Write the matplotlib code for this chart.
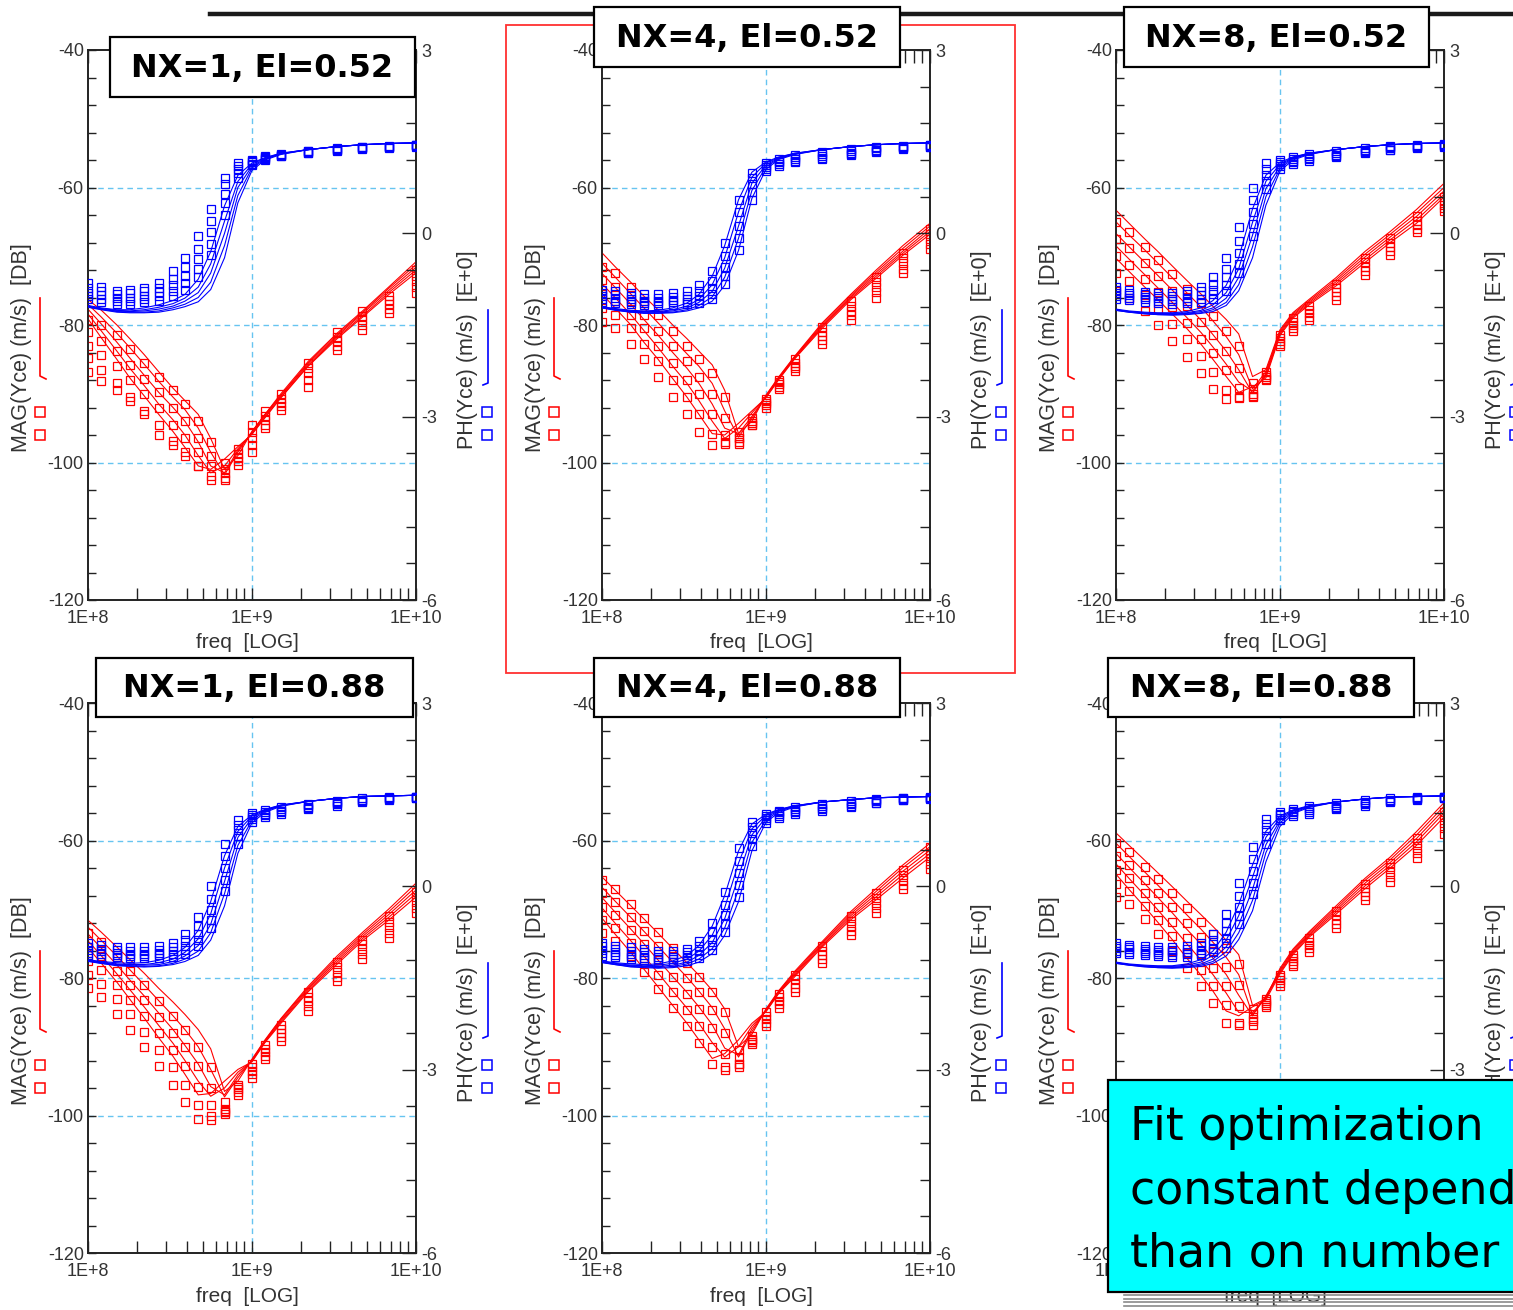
import numpy as np
import matplotlib.pyplot as plt
from matplotlib.patches import Rectangle
from matplotlib.lines import Line2D
from matplotlib.ticker import FixedLocator, MultipleLocator, LogLocator, NullFormatter

plt.rcParams['font.family'] = ['Liberation Sans', 'DejaVu Sans']
plt.rcParams['axes.unicode_minus'] = False

# ---- data ----
freq_ghz = [0.10, 0.12, 0.15, 0.18, 0.22, 0.27, 0.33, 0.39, 0.47, 0.56,
            0.68, 0.82, 1.0, 1.2, 1.5, 2.2, 3.3, 4.7, 6.8, 10.0]

titles = ['NX=1, El=0.52', 'NX=4, El=0.52', 'NX=8, El=0.52',
          'NX=1, El=0.88', 'NX=4, El=0.88', 'NX=8, El=0.88']

x_tick_labels = ['1E+8', '1E+9', '1E+10']
mag_ticks = [-120, -100, -80, -60, -40]
ph_ticks = [-6, -3, 0, 3]

# NX=1, El=0.52 : magnitude [dB] (fit lines / measured squares), phase (fit / measured)
p1_mag_fit = [
    [-76.3, -77.8, -80.0, -82.0, -84.3, -86.8, -89.2, -91.0, -93.0, -96.5, -101.0, -99.0, -95.5, -93.0, -90.0, -85.3, -81.2, -78.0, -74.5, -70.8],
    [-77.0, -78.8, -81.2, -83.3, -85.7, -88.2, -90.5, -92.3, -95.0, -98.5, -101.8, -98.5, -95.5, -93.0, -90.2, -85.5, -81.4, -78.2, -74.7, -71.2],
    [-77.7, -79.8, -82.5, -84.8, -87.3, -89.8, -92.0, -94.0, -97.0, -100.5, -101.5, -98.2, -95.7, -93.2, -90.3, -85.7, -81.6, -78.4, -75.0, -71.6],
    [-78.4, -80.8, -83.8, -86.3, -88.8, -91.5, -93.8, -96.0, -99.0, -101.5, -100.5, -98.0, -95.8, -93.4, -90.5, -85.9, -81.8, -78.7, -75.3, -72.0],
    [-79.1, -81.8, -85.0, -87.7, -90.3, -93.0, -95.5, -97.8, -100.5, -101.0, -99.5, -97.7, -95.9, -93.5, -90.6, -86.0, -82.0, -78.9, -75.6, -72.4]]
p1_mag_meas = [
    [-79.3, -80.0, -81.5, -83.5, -85.5, -87.5, -89.5, -91.5, -94.0, -97.0, -100.0, -98.0, -94.5, -92.5, -90.0, -85.5, -81.0, -78.0, -75.8, -72.0],
    [-81.0, -82.3, -83.8, -85.8, -87.8, -89.8, -92.0, -94.0, -96.5, -99.0, -101.0, -98.8, -95.5, -93.2, -90.8, -86.3, -81.7, -78.7, -76.4, -72.8],
    [-83.0, -84.3, -86.0, -88.0, -90.0, -92.0, -94.5, -96.5, -98.5, -100.5, -101.5, -99.3, -96.5, -93.8, -91.3, -87.0, -82.3, -79.3, -77.0, -73.6],
    [-84.8, -86.5, -88.5, -90.5, -92.5, -94.5, -96.8, -98.5, -100.5, -102.0, -102.3, -99.8, -97.5, -94.5, -91.8, -88.0, -83.0, -80.0, -77.6, -74.5],
    [-86.8, -88.2, -89.5, -91.0, -93.0, -96.0, -97.5, -99.0, -100.5, -102.5, -102.5, -100.3, -98.5, -95.0, -92.3, -89.0, -83.6, -80.7, -78.3, -75.3]]
p1_ph_fit = [
    [-1.18, -1.22, -1.25, -1.25, -1.22, -1.17, -1.10, -1.00, -0.75, -0.30, 0.45, 0.95, 1.15, 1.24, 1.31, 1.37, 1.42, 1.45, 1.47, 1.48],
    [-1.19, -1.23, -1.26, -1.27, -1.25, -1.21, -1.15, -1.06, -0.88, -0.50, 0.20, 0.85, 1.13, 1.23, 1.31, 1.37, 1.42, 1.45, 1.47, 1.48],
    [-1.20, -1.24, -1.27, -1.28, -1.27, -1.24, -1.19, -1.11, -0.97, -0.65, 0.00, 0.75, 1.10, 1.22, 1.30, 1.37, 1.42, 1.45, 1.47, 1.48],
    [-1.20, -1.24, -1.28, -1.29, -1.29, -1.27, -1.22, -1.16, -1.05, -0.80, -0.20, 0.62, 1.07, 1.21, 1.30, 1.37, 1.42, 1.45, 1.47, 1.48],
    [-1.21, -1.25, -1.29, -1.30, -1.30, -1.29, -1.25, -1.20, -1.12, -0.92, -0.40, 0.50, 1.03, 1.20, 1.29, 1.37, 1.42, 1.45, 1.47, 1.48]]
p1_ph_meas = [
    [-0.82, -0.88, -0.95, -0.92, -0.90, -0.82, -0.62, -0.40, -0.05, 0.40, 0.90, 1.15, 1.20, 1.27, 1.30, 1.35, 1.40, 1.42, 1.43, 1.45],
    [-0.90, -0.95, -1.00, -0.98, -0.95, -0.90, -0.75, -0.55, -0.25, 0.20, 0.80, 1.10, 1.18, 1.25, 1.29, 1.34, 1.38, 1.41, 1.42, 1.44],
    [-0.97, -1.01, -1.05, -1.05, -1.02, -0.96, -0.85, -0.70, -0.42, 0.02, 0.65, 1.05, 1.16, 1.23, 1.28, 1.33, 1.37, 1.40, 1.42, 1.44],
    [-1.03, -1.07, -1.10, -1.10, -1.08, -1.03, -0.95, -0.82, -0.58, -0.18, 0.50, 0.98, 1.14, 1.21, 1.27, 1.32, 1.36, 1.39, 1.41, 1.43],
    [-1.08, -1.12, -1.15, -1.15, -1.13, -1.10, -1.03, -0.93, -0.72, -0.35, 0.30, 0.90, 1.12, 1.20, 1.26, 1.31, 1.35, 1.38, 1.40, 1.42]]

# NX=4, El=0.52
p2_mag_fit = [
    [-69.5, -71.5, -73.8, -75.8, -77.8, -80.0, -82.0, -83.8, -85.8, -89.5, -95.8, -94.0, -90.2, -87.5, -84.5, -79.7, -75.5, -72.0, -68.5, -65.2],
    [-71.0, -73.0, -75.5, -77.5, -79.7, -82.0, -84.2, -86.0, -88.5, -92.5, -96.3, -93.6, -90.3, -87.6, -84.6, -79.9, -75.7, -72.3, -68.9, -65.6],
    [-72.5, -74.5, -77.0, -79.2, -81.5, -84.0, -86.3, -88.5, -91.5, -95.0, -95.8, -93.3, -90.4, -87.7, -84.7, -80.1, -75.9, -72.6, -69.3, -66.0],
    [-74.0, -76.0, -78.5, -80.8, -83.3, -86.0, -88.5, -91.0, -94.0, -96.5, -95.0, -92.8, -90.5, -87.8, -84.8, -80.3, -76.1, -72.9, -69.6, -66.4],
    [-75.5, -77.5, -80.0, -82.5, -85.0, -87.8, -90.5, -93.0, -95.8, -96.0, -94.3, -92.5, -90.6, -87.9, -84.9, -80.5, -76.3, -73.2, -69.9, -66.8]]
p2_mag_meas = [
    [-71.5, -72.5, -74.5, -76.5, -78.5, -80.8, -83.0, -85.0, -87.0, -90.5, -96.5, -94.5, -90.8, -88.0, -85.0, -80.3, -76.5, -73.0, -69.5, -66.0],
    [-73.5, -74.5, -76.5, -78.5, -80.8, -83.0, -85.3, -87.5, -90.0, -93.5, -97.0, -94.5, -91.0, -88.3, -85.5, -81.0, -77.2, -73.8, -70.3, -66.8],
    [-75.5, -76.5, -78.5, -80.5, -83.0, -85.5, -88.0, -90.0, -93.0, -96.0, -97.3, -94.3, -91.3, -88.6, -85.9, -81.6, -77.9, -74.5, -71.0, -67.5],
    [-77.5, -78.5, -80.5, -82.8, -85.3, -88.0, -90.5, -93.0, -95.8, -97.3, -96.5, -94.0, -91.6, -89.0, -86.3, -82.2, -78.6, -75.2, -71.8, -68.2],
    [-79.5, -80.5, -82.8, -85.0, -87.5, -90.5, -93.0, -95.5, -97.5, -97.0, -95.5, -93.5, -92.0, -89.3, -86.7, -82.8, -79.3, -76.0, -72.5, -69.0]]
p2_ph_fit = [
    [-1.20, -1.23, -1.26, -1.27, -1.26, -1.22, -1.14, -1.00, -0.70, -0.20, 0.55, 1.00, 1.17, 1.25, 1.31, 1.37, 1.42, 1.45, 1.47, 1.48],
    [-1.21, -1.24, -1.27, -1.28, -1.28, -1.25, -1.19, -1.08, -0.84, -0.40, 0.35, 0.92, 1.15, 1.24, 1.31, 1.37, 1.42, 1.45, 1.47, 1.48],
    [-1.21, -1.25, -1.28, -1.29, -1.29, -1.27, -1.22, -1.13, -0.95, -0.57, 0.12, 0.82, 1.12, 1.23, 1.30, 1.37, 1.42, 1.45, 1.47, 1.48],
    [-1.22, -1.25, -1.29, -1.30, -1.30, -1.29, -1.25, -1.18, -1.04, -0.72, -0.08, 0.70, 1.09, 1.22, 1.30, 1.37, 1.42, 1.45, 1.47, 1.48],
    [-1.22, -1.26, -1.29, -1.31, -1.31, -1.30, -1.27, -1.22, -1.11, -0.85, -0.28, 0.57, 1.05, 1.21, 1.29, 1.37, 1.42, 1.45, 1.47, 1.48]]
p2_ph_meas = [
    [-0.92, -0.95, -0.98, -1.00, -1.00, -0.98, -0.95, -0.85, -0.62, -0.15, 0.55, 0.98, 1.15, 1.22, 1.28, 1.33, 1.38, 1.41, 1.43, 1.45],
    [-0.98, -1.00, -1.03, -1.05, -1.05, -1.04, -1.02, -0.95, -0.78, -0.37, 0.35, 0.90, 1.12, 1.19, 1.25, 1.30, 1.35, 1.39, 1.42, 1.44],
    [-1.03, -1.05, -1.08, -1.10, -1.10, -1.09, -1.07, -1.03, -0.90, -0.55, 0.12, 0.80, 1.09, 1.16, 1.22, 1.27, 1.32, 1.37, 1.41, 1.43],
    [-1.08, -1.10, -1.12, -1.14, -1.14, -1.13, -1.12, -1.09, -1.00, -0.70, -0.08, 0.68, 1.06, 1.13, 1.19, 1.24, 1.30, 1.35, 1.40, 1.42],
    [-1.12, -1.14, -1.16, -1.17, -1.18, -1.17, -1.16, -1.14, -1.07, -0.83, -0.28, 0.55, 1.02, 1.10, 1.16, 1.21, 1.28, 1.33, 1.38, 1.41]]

# NX=8, El=0.52
p3_mag_fit = [
    [-63.3, -65.2, -67.5, -69.3, -71.4, -73.5, -75.5, -77.3, -79.2, -81.3, -87.5, -86.5, -80.7, -78.2, -76.3, -73.1, -69.3, -66.4, -63.2, -59.4],
    [-65.0, -66.9, -69.1, -71.0, -73.1, -75.3, -77.4, -79.4, -81.7, -84.3, -89.3, -86.8, -80.9, -78.4, -76.5, -73.4, -69.7, -66.8, -63.7, -60.0],
    [-66.7, -68.6, -70.9, -72.8, -74.9, -77.1, -79.3, -81.4, -83.8, -86.5, -89.9, -87.1, -81.1, -78.6, -76.7, -73.7, -70.1, -67.2, -64.2, -60.5],
    [-68.5, -70.4, -72.7, -74.6, -76.7, -78.9, -81.1, -83.2, -85.7, -88.3, -89.6, -87.4, -81.3, -78.8, -76.9, -74.0, -70.5, -67.6, -64.7, -61.0],
    [-70.3, -72.2, -74.5, -76.3, -78.4, -80.5, -82.8, -85.0, -87.5, -89.8, -89.0, -87.7, -81.5, -79.0, -77.1, -74.3, -70.9, -68.0, -65.2, -61.4]]
p3_mag_meas = [
    [-65.0, -66.5, -68.7, -70.5, -72.6, -74.8, -76.8, -78.7, -80.8, -83.0, -88.5, -86.8, -81.5, -79.0, -77.3, -74.0, -70.3, -67.3, -64.2, -61.4],
    [-67.5, -68.8, -71.0, -72.9, -75.0, -77.3, -79.5, -81.4, -83.8, -86.3, -90.3, -87.2, -81.9, -79.5, -77.8, -74.6, -70.9, -68.0, -64.9, -62.0],
    [-70.0, -71.2, -73.3, -75.2, -77.4, -79.7, -82.0, -84.1, -86.6, -89.2, -90.5, -87.5, -82.3, -80.0, -78.3, -75.2, -71.5, -68.6, -65.5, -62.5],
    [-72.5, -73.6, -75.6, -77.6, -79.8, -82.1, -84.5, -86.8, -89.4, -90.6, -90.0, -87.8, -82.7, -80.4, -78.8, -75.8, -72.1, -69.2, -66.0, -63.0],
    [-75.0, -76.0, -78.0, -80.0, -82.3, -84.7, -87.0, -89.3, -90.8, -90.4, -89.3, -88.0, -83.0, -80.8, -79.2, -76.3, -72.7, -69.8, -66.5, -63.4]]
p3_ph_fit = [
    [-1.24, -1.27, -1.29, -1.30, -1.30, -1.28, -1.22, -1.10, -0.85, -0.40, 0.40, 0.95, 1.16, 1.25, 1.31, 1.37, 1.42, 1.45, 1.47, 1.48],
    [-1.25, -1.28, -1.30, -1.31, -1.31, -1.30, -1.26, -1.17, -0.97, -0.58, 0.18, 0.85, 1.13, 1.24, 1.31, 1.37, 1.42, 1.45, 1.47, 1.48],
    [-1.25, -1.28, -1.31, -1.32, -1.32, -1.31, -1.28, -1.22, -1.06, -0.72, -0.03, 0.73, 1.10, 1.23, 1.30, 1.37, 1.42, 1.45, 1.47, 1.48],
    [-1.26, -1.29, -1.31, -1.33, -1.33, -1.32, -1.30, -1.25, -1.13, -0.84, -0.22, 0.60, 1.06, 1.22, 1.30, 1.37, 1.42, 1.45, 1.47, 1.48],
    [-1.26, -1.29, -1.32, -1.33, -1.34, -1.33, -1.31, -1.28, -1.18, -0.94, -0.40, 0.46, 1.02, 1.20, 1.29, 1.37, 1.42, 1.45, 1.47, 1.48]]
p3_ph_meas = [
    [-0.88, -0.92, -0.96, -0.98, -0.98, -0.95, -0.88, -0.72, -0.40, 0.10, 0.75, 1.15, 1.20, 1.25, 1.30, 1.35, 1.40, 1.43, 1.45, 1.46],
    [-0.93, -0.97, -1.00, -1.02, -1.02, -1.00, -0.95, -0.83, -0.58, -0.12, 0.55, 1.05, 1.17, 1.22, 1.27, 1.32, 1.37, 1.41, 1.43, 1.45],
    [-0.98, -1.01, -1.04, -1.06, -1.07, -1.05, -1.01, -0.92, -0.72, -0.32, 0.35, 0.95, 1.14, 1.19, 1.24, 1.29, 1.35, 1.39, 1.42, 1.44],
    [-1.03, -1.05, -1.08, -1.10, -1.11, -1.10, -1.07, -1.00, -0.84, -0.50, 0.15, 0.85, 1.10, 1.16, 1.21, 1.27, 1.33, 1.37, 1.41, 1.43],
    [-1.07, -1.09, -1.12, -1.14, -1.15, -1.14, -1.12, -1.07, -0.94, -0.65, -0.05, 0.72, 1.06, 1.13, 1.18, 1.25, 1.31, 1.36, 1.40, 1.42]]

# NX=1, El=0.88
p4_mag_fit = [
    [-71.6, -73.3, -75.5, -77.3, -79.3, -81.5, -83.5, -85.3, -87.5, -90.3, -96.5, -95.0, -91.8, -89.0, -85.9, -81.2, -76.8, -73.4, -70.0, -66.2],
    [-72.6, -74.5, -76.8, -78.8, -81.0, -83.3, -85.5, -87.5, -90.0, -93.3, -97.3, -94.5, -91.9, -89.1, -86.0, -81.4, -77.1, -73.7, -70.4, -66.7],
    [-73.6, -75.6, -78.1, -80.3, -82.6, -85.1, -87.5, -89.8, -92.5, -95.8, -97.0, -94.1, -92.0, -89.2, -86.2, -81.6, -77.4, -74.0, -70.8, -67.2],
    [-74.6, -76.7, -79.4, -81.7, -84.2, -86.9, -89.5, -92.0, -95.0, -97.2, -96.0, -93.7, -92.1, -89.3, -86.4, -81.8, -77.7, -74.3, -71.2, -67.7],
    [-75.6, -77.8, -80.6, -83.1, -85.8, -88.7, -91.4, -94.0, -97.0, -96.8, -95.0, -93.3, -92.2, -89.4, -86.6, -82.0, -78.0, -74.6, -71.6, -68.2]]
p4_mag_meas = [
    [-73.5, -74.8, -77.0, -79.0, -81.0, -83.3, -85.5, -87.5, -90.0, -93.0, -98.0, -95.5, -92.5, -89.8, -86.8, -82.0, -77.7, -74.4, -71.0, -67.5],
    [-75.5, -76.8, -79.0, -81.0, -83.2, -85.6, -88.0, -90.0, -92.8, -96.0, -99.3, -95.8, -93.0, -90.3, -87.4, -82.7, -78.4, -75.1, -71.8, -68.2],
    [-77.5, -78.8, -81.0, -83.2, -85.5, -88.0, -90.5, -92.8, -95.8, -98.5, -99.8, -96.2, -93.5, -90.8, -88.0, -83.4, -79.1, -75.8, -72.6, -69.0],
    [-79.5, -80.8, -83.0, -85.3, -87.8, -90.5, -93.0, -95.5, -98.5, -100.0, -99.5, -96.6, -94.0, -91.3, -88.6, -84.1, -79.8, -76.5, -73.4, -69.8],
    [-81.5, -82.8, -85.2, -87.5, -90.0, -92.8, -95.5, -98.0, -100.5, -100.7, -99.0, -97.0, -94.5, -91.8, -89.2, -84.8, -80.5, -77.2, -74.2, -70.6]]
p4_ph_fit = [
    [-1.20, -1.23, -1.25, -1.26, -1.25, -1.21, -1.13, -1.00, -0.72, -0.25, 0.50, 0.98, 1.17, 1.26, 1.33, 1.39, 1.44, 1.47, 1.48, 1.49],
    [-1.21, -1.24, -1.27, -1.28, -1.28, -1.25, -1.19, -1.08, -0.86, -0.45, 0.30, 0.90, 1.15, 1.25, 1.33, 1.39, 1.44, 1.47, 1.48, 1.49],
    [-1.22, -1.25, -1.28, -1.29, -1.29, -1.28, -1.23, -1.14, -0.97, -0.62, 0.08, 0.80, 1.12, 1.24, 1.32, 1.39, 1.44, 1.47, 1.48, 1.49],
    [-1.22, -1.26, -1.29, -1.30, -1.31, -1.30, -1.26, -1.19, -1.06, -0.76, -0.12, 0.67, 1.08, 1.23, 1.32, 1.39, 1.44, 1.47, 1.48, 1.49],
    [-1.23, -1.26, -1.30, -1.31, -1.32, -1.31, -1.28, -1.23, -1.13, -0.88, -0.32, 0.54, 1.04, 1.21, 1.31, 1.39, 1.44, 1.47, 1.48, 1.49]]
p4_ph_meas = [
    [-0.93, -0.96, -0.99, -1.00, -1.00, -0.98, -0.92, -0.78, -0.50, 0.00, 0.70, 1.08, 1.20, 1.25, 1.30, 1.35, 1.40, 1.44, 1.46, 1.47],
    [-0.99, -1.02, -1.04, -1.05, -1.05, -1.04, -1.00, -0.88, -0.65, -0.20, 0.50, 1.00, 1.17, 1.22, 1.27, 1.33, 1.38, 1.42, 1.45, 1.46],
    [-1.04, -1.06, -1.09, -1.10, -1.10, -1.09, -1.06, -0.97, -0.78, -0.38, 0.30, 0.92, 1.14, 1.19, 1.24, 1.30, 1.36, 1.41, 1.44, 1.46],
    [-1.09, -1.11, -1.13, -1.14, -1.14, -1.13, -1.11, -1.04, -0.88, -0.55, 0.10, 0.82, 1.10, 1.16, 1.21, 1.28, 1.34, 1.39, 1.43, 1.45],
    [-1.13, -1.15, -1.16, -1.17, -1.17, -1.17, -1.15, -1.10, -0.97, -0.68, -0.08, 0.70, 1.06, 1.13, 1.18, 1.26, 1.32, 1.38, 1.42, 1.44]]

# NX=4, El=0.88
p5_mag_fit = [
    [-65.3, -67.2, -69.5, -71.4, -73.5, -75.7, -77.8, -79.6, -81.8, -84.5, -90.0, -88.2, -84.5, -81.8, -79.0, -74.7, -70.3, -67.0, -63.6, -60.4],
    [-66.8, -68.8, -71.2, -73.2, -75.4, -77.7, -79.9, -81.9, -84.3, -87.4, -91.5, -87.8, -84.6, -81.9, -79.2, -74.9, -70.6, -67.4, -64.0, -60.9],
    [-68.3, -70.4, -72.9, -75.0, -77.4, -79.8, -82.1, -84.2, -86.8, -90.2, -91.2, -87.4, -84.7, -82.0, -79.4, -75.1, -70.9, -67.8, -64.5, -61.4],
    [-69.8, -72.0, -74.6, -76.8, -79.3, -81.9, -84.4, -86.6, -89.4, -91.5, -90.0, -87.0, -84.8, -82.1, -79.6, -75.3, -71.2, -68.2, -65.0, -61.9],
    [-71.3, -73.6, -76.3, -78.7, -81.3, -84.0, -86.6, -89.0, -91.7, -91.0, -89.0, -86.6, -84.9, -82.2, -79.8, -75.5, -71.5, -68.6, -65.5, -62.4]]
p5_mag_meas = [
    [-65.7, -67.0, -69.2, -71.2, -73.3, -75.6, -77.8, -79.8, -82.0, -85.0, -90.5, -88.5, -85.0, -82.3, -79.6, -75.3, -71.0, -67.7, -64.3, -61.0],
    [-67.7, -68.9, -71.1, -73.1, -75.3, -77.7, -80.0, -82.1, -84.7, -88.0, -92.5, -88.8, -85.5, -82.8, -80.2, -76.0, -71.7, -68.4, -65.0, -61.8],
    [-69.6, -70.8, -73.0, -75.1, -77.4, -79.9, -82.3, -84.5, -87.3, -91.0, -93.0, -89.0, -86.0, -83.3, -80.8, -76.6, -72.4, -69.1, -65.7, -62.6],
    [-71.6, -72.7, -74.9, -77.1, -79.5, -82.1, -84.6, -87.0, -90.0, -93.0, -92.5, -89.3, -86.5, -83.8, -81.4, -77.2, -73.1, -69.8, -66.4, -63.4],
    [-73.5, -74.6, -76.8, -79.1, -81.6, -84.3, -87.0, -89.5, -92.5, -93.4, -91.5, -89.6, -87.0, -84.3, -82.0, -77.8, -73.8, -70.5, -67.1, -64.2]]
p5_ph_fit = [
    [-1.22, -1.25, -1.27, -1.28, -1.27, -1.22, -1.13, -0.97, -0.65, -0.15, 0.58, 1.02, 1.18, 1.26, 1.32, 1.38, 1.42, 1.45, 1.46, 1.47],
    [-1.23, -1.26, -1.29, -1.30, -1.29, -1.26, -1.19, -1.06, -0.80, -0.35, 0.38, 0.94, 1.16, 1.25, 1.32, 1.38, 1.42, 1.45, 1.46, 1.47],
    [-1.24, -1.27, -1.30, -1.31, -1.31, -1.29, -1.24, -1.13, -0.92, -0.53, 0.16, 0.84, 1.13, 1.24, 1.31, 1.38, 1.42, 1.45, 1.46, 1.47],
    [-1.24, -1.28, -1.31, -1.32, -1.33, -1.31, -1.27, -1.19, -1.02, -0.68, -0.05, 0.72, 1.09, 1.23, 1.31, 1.38, 1.42, 1.45, 1.46, 1.47],
    [-1.25, -1.28, -1.32, -1.33, -1.34, -1.33, -1.30, -1.24, -1.10, -0.80, -0.25, 0.58, 1.05, 1.21, 1.30, 1.38, 1.42, 1.45, 1.46, 1.47]]
p5_ph_meas = [
    [-0.93, -0.97, -1.00, -1.03, -1.05, -1.05, -1.02, -0.90, -0.60, -0.10, 0.62, 1.05, 1.18, 1.24, 1.30, 1.35, 1.40, 1.43, 1.45, 1.46],
    [-0.98, -1.02, -1.06, -1.08, -1.10, -1.10, -1.08, -0.98, -0.74, -0.30, 0.42, 0.97, 1.15, 1.21, 1.27, 1.32, 1.37, 1.41, 1.44, 1.45],
    [-1.04, -1.07, -1.10, -1.13, -1.15, -1.15, -1.13, -1.05, -0.86, -0.47, 0.22, 0.88, 1.12, 1.18, 1.24, 1.29, 1.34, 1.39, 1.43, 1.45],
    [-1.09, -1.12, -1.15, -1.17, -1.19, -1.19, -1.18, -1.12, -0.96, -0.62, 0.02, 0.78, 1.08, 1.15, 1.21, 1.26, 1.32, 1.37, 1.42, 1.44],
    [-1.14, -1.16, -1.19, -1.21, -1.23, -1.23, -1.22, -1.17, -1.04, -0.75, -0.18, 0.66, 1.04, 1.12, 1.18, 1.23, 1.30, 1.36, 1.41, 1.43]]

# NX=8, El=0.88
p6_mag_fit = [
    [-58.9, -60.7, -62.9, -64.7, -66.7, -68.8, -70.8, -72.5, -74.5, -76.6, -84.0, -83.0, -78.6, -75.8, -73.3, -69.5, -65.5, -62.4, -58.7, -54.5],
    [-60.4, -62.3, -64.6, -66.5, -68.6, -70.8, -72.9, -74.8, -77.0, -79.5, -85.3, -82.8, -78.8, -76.0, -73.5, -69.8, -65.8, -62.8, -59.2, -55.0],
    [-61.9, -63.9, -66.3, -68.3, -70.5, -72.9, -75.1, -77.1, -79.5, -82.5, -85.5, -82.6, -79.0, -76.2, -73.7, -70.1, -66.2, -63.2, -59.7, -55.5],
    [-63.4, -65.5, -68.0, -70.1, -72.5, -75.0, -77.4, -79.5, -82.2, -85.0, -85.0, -82.9, -79.2, -76.4, -73.9, -70.4, -66.6, -63.6, -60.2, -56.0],
    [-64.9, -67.1, -69.7, -71.9, -74.4, -77.1, -79.6, -81.9, -84.8, -85.5, -84.2, -83.2, -79.4, -76.6, -74.1, -70.7, -67.0, -64.0, -60.7, -56.6]]
p6_mag_meas = [
    [-60.4, -61.7, -63.8, -65.6, -67.6, -69.8, -71.8, -73.6, -75.7, -78.0, -84.5, -83.0, -79.5, -76.7, -74.2, -70.3, -66.3, -63.2, -59.7, -55.8],
    [-62.3, -63.6, -65.7, -67.6, -69.7, -72.0, -74.1, -76.1, -78.4, -81.0, -86.3, -83.3, -79.9, -77.1, -74.7, -70.9, -66.9, -63.9, -60.4, -56.6],
    [-64.3, -65.5, -67.6, -69.6, -71.8, -74.2, -76.5, -78.6, -81.2, -84.0, -86.8, -83.6, -80.3, -77.5, -75.2, -71.5, -67.5, -64.6, -61.1, -57.4],
    [-66.3, -67.4, -69.5, -71.6, -73.9, -76.4, -78.8, -81.1, -83.9, -86.5, -86.0, -83.9, -80.7, -77.9, -75.7, -72.1, -68.1, -65.3, -61.8, -58.2],
    [-68.2, -69.3, -71.4, -73.6, -76.0, -78.6, -81.2, -83.6, -86.5, -86.8, -85.2, -84.2, -81.1, -78.3, -76.2, -72.7, -68.7, -66.0, -62.5, -59.0]]
p6_ph_fit = [
    [-1.24, -1.27, -1.29, -1.30, -1.30, -1.27, -1.20, -1.06, -0.75, -0.30, 0.35, 0.90, 1.15, 1.25, 1.32, 1.38, 1.43, 1.46, 1.47, 1.48],
    [-1.25, -1.28, -1.30, -1.31, -1.31, -1.29, -1.24, -1.13, -0.88, -0.48, 0.15, 0.80, 1.12, 1.24, 1.31, 1.38, 1.43, 1.46, 1.47, 1.48],
    [-1.25, -1.28, -1.31, -1.32, -1.32, -1.31, -1.27, -1.19, -0.99, -0.63, -0.05, 0.68, 1.08, 1.23, 1.31, 1.38, 1.43, 1.46, 1.47, 1.48],
    [-1.26, -1.29, -1.31, -1.33, -1.33, -1.32, -1.29, -1.23, -1.07, -0.76, -0.23, 0.55, 1.04, 1.21, 1.30, 1.38, 1.43, 1.46, 1.47, 1.48],
    [-1.26, -1.29, -1.32, -1.33, -1.34, -1.33, -1.31, -1.26, -1.14, -0.87, -0.40, 0.40, 0.98, 1.19, 1.29, 1.38, 1.43, 1.46, 1.47, 1.48]]
p6_ph_meas = [
    [-0.93, -0.96, -0.98, -1.00, -1.00, -0.98, -0.92, -0.78, -0.45, 0.05, 0.65, 1.10, 1.22, 1.27, 1.31, 1.36, 1.41, 1.44, 1.46, 1.47],
    [-0.97, -1.00, -1.02, -1.04, -1.04, -1.03, -0.98, -0.87, -0.60, -0.15, 0.45, 1.02, 1.19, 1.24, 1.28, 1.33, 1.38, 1.42, 1.45, 1.46],
    [-1.01, -1.03, -1.06, -1.08, -1.08, -1.07, -1.04, -0.95, -0.73, -0.33, 0.25, 0.93, 1.16, 1.21, 1.25, 1.30, 1.36, 1.40, 1.44, 1.46],
    [-1.05, -1.07, -1.09, -1.11, -1.12, -1.11, -1.09, -1.02, -0.84, -0.48, 0.05, 0.83, 1.12, 1.18, 1.22, 1.28, 1.34, 1.39, 1.43, 1.45],
    [-1.09, -1.11, -1.13, -1.14, -1.15, -1.15, -1.13, -1.08, -0.93, -0.62, -0.12, 0.70, 1.08, 1.15, 1.19, 1.26, 1.32, 1.38, 1.42, 1.44]]

# the note box runs off the right edge of the slide, only this much shows
note_lines = ['Fit optimization', 'constant depend', 'than on number']

panel_data = [
    (p1_mag_fit, p1_mag_meas, p1_ph_fit, p1_ph_meas),
    (p2_mag_fit, p2_mag_meas, p2_ph_fit, p2_ph_meas),
    (p3_mag_fit, p3_mag_meas, p3_ph_fit, p3_ph_meas),
    (p4_mag_fit, p4_mag_meas, p4_ph_fit, p4_ph_meas),
    (p5_mag_fit, p5_mag_meas, p5_ph_fit, p5_ph_meas),
    (p6_mag_fit, p6_mag_meas, p6_ph_fit, p6_ph_meas),
]

# ---- layout (pixels) ----
W, H = 1513, 1310
fig = plt.figure(figsize=(W / 100, H / 100), dpi=100)
fig.patch.set_facecolor('white')

def fx(x):
    return x / W

def fy(y):
    return 1 - y / H

col_x = [88, 602, 1116]
row_y = [50, 703]
pw, ph = 328, 550
title_boxes = [(110, 37, 415, 97), (594, 7, 900, 67), (1124, 7, 1429, 67),
               (96, 658, 413, 717), (594, 658, 900, 717), (1108, 658, 1414, 717)]

RED = '#ff0000'
BLUE = '#0000ff'
GRIDC = '#66c4f0'
TXT = '#333333'
freq = np.array(freq_ghz) * 1e9

for i, (mag_fit, mag_meas, ph_fit, ph_meas) in enumerate(panel_data):
    x0 = col_x[i % 3]
    y0 = row_y[i // 3]
    ax = fig.add_axes([fx(x0), fy(y0 + ph), pw / W, ph / H])
    ax.set_xscale('log')
    ax.set_xlim(1e8, 1e10)
    ax.set_ylim(-120, -40)
    for s in ax.spines.values():
        s.set_linewidth(1.2)
        s.set_color('#222222')

    # grid
    for g in [-60, -80, -100]:
        ax.axhline(g, color=GRIDC, lw=1.0, ls=(0, (4, 3)), zorder=1)
    ax.axvline(1e9, color=GRIDC, lw=1.0, ls=(0, (4, 3)), zorder=1)

    # x ticks
    ax.xaxis.set_major_locator(FixedLocator([1e8, 1e9, 1e10]))
    ax.set_xticklabels(x_tick_labels)
    ax.xaxis.set_minor_locator(LogLocator(base=10, subs=np.arange(2, 10)))
    ax.xaxis.set_minor_formatter(NullFormatter())
    ax.tick_params(axis='x', which='both', direction='in', top=True, length=9,
                   width=1, color='#222222', labelsize=13, labelcolor=TXT, pad=7)

    # left y ticks
    ax.yaxis.set_major_locator(FixedLocator(mag_ticks))
    ax.set_yticklabels([str(t) for t in mag_ticks])
    ax.yaxis.set_minor_locator(MultipleLocator(4))
    ax.tick_params(axis='y', which='both', direction='in', length=6, width=1,
                   color='#222222', labelsize=13, labelcolor=TXT, pad=3)

    for row in mag_fit:
        ax.plot(freq, row, color=RED, lw=0.8, zorder=3)
    for row in mag_meas:
        ax.plot(freq, row, ls='none', marker='s', ms=6, mfc='none',
                mec=RED, mew=0.9, zorder=3)

    ax2 = ax.twinx()
    ax2.set_ylim(-6, 3)
    ax2.yaxis.set_major_locator(FixedLocator(ph_ticks))
    ax2.set_yticklabels([str(t) for t in ph_ticks])
    ax2.yaxis.set_minor_locator(MultipleLocator(0.6))
    ax2.tick_params(axis='y', which='major', direction='in', length=10, width=1,
                    color='#222222', labelsize=13, labelcolor=TXT, pad=4)
    ax2.tick_params(axis='y', which='minor', direction='in', length=7, width=1,
                    color='#222222')
    for s in ax2.spines.values():
        s.set_linewidth(1.2)
        s.set_color('#222222')
    for row in ph_fit:
        ax2.plot(freq, row, color=BLUE, lw=0.8, zorder=3)
    for row in ph_meas:
        ax2.plot(freq, row, ls='none', marker='s', ms=6, mfc='none',
                 mec=BLUE, mew=0.9, zorder=3)

    # axis labels and little legend samples
    fig.text(fx(x0 + pw / 2 - 5), fy(y0 + 593), 'freq  [LOG]', ha='center',
             va='center', fontsize=15, color=TXT)
    fig.text(fx(x0 - 66), fy(y0 + 298), 'MAG(Yce) (m/s)  [DB]', rotation=90,
             ha='center', va='center', fontsize=15.5, color=TXT)
    fig.text(fx(x0 + pw + 51), fy(y0 + 300), 'PH(Yce) (m/s)  [E+0]', rotation=90,
             ha='center', va='center', fontsize=15.5, color=TXT)
    fig.add_artist(Line2D([fx(x0 - 48), fx(x0 - 48), fx(x0 - 42)],
                          [fy(y0 + 248), fy(y0 + 326), fy(y0 + 329)],
                          color=RED, lw=1.2))
    fig.add_artist(Line2D([fx(x0 + pw + 72), fx(x0 + pw + 72), fx(x0 + pw + 67)],
                          [fy(y0 + 260), fy(y0 + 333), fy(y0 + 335)],
                          color=BLUE, lw=1.2))
    for yy in (362, 385):
        fig.add_artist(Line2D([fx(x0 - 48)], [fy(y0 + yy)], ls='none', marker='s',
                              ms=6.5, mfc='none', mec=RED, mew=1.1))
        fig.add_artist(Line2D([fx(x0 + pw + 71)], [fy(y0 + yy)], ls='none', marker='s',
                              ms=6.5, mfc='none', mec=BLUE, mew=1.1))

# top black rule and red frame around the middle top panel
fig.add_artist(Line2D([fx(210), fx(1513)], [fy(14), fy(14)], color='#1a1a1a', lw=3.2, zorder=4))
fig.add_artist(Rectangle((fx(506), fy(673)), (1015 - 506) / W, (673 - 25) / H,
                         fill=False, edgecolor='#ff3030', lw=1.3, zorder=5))

# title boxes
for (bx0, by0, bx1, by1), t in zip(title_boxes, titles):
    fig.add_artist(Rectangle((fx(bx0), fy(by1)), (bx1 - bx0) / W, (by1 - by0) / H,
                             facecolor='white', edgecolor='black', lw=1.6, zorder=10))
    fig.text(fx((bx0 + bx1) / 2), fy((by0 + by1) / 2 + 1), t, ha='center', va='center',
             fontsize=23, fontweight='bold', family='DejaVu Sans', color='black', zorder=11)

# cyan note box (runs off the right edge)
fig.add_artist(Rectangle((fx(1108), fy(1292)), (1540 - 1108) / W, (1292 - 1080) / H,
                         facecolor='#00ffff', edgecolor='black', lw=1.6, zorder=10))
for k, line in enumerate(note_lines):
    fig.text(fx(1130), fy(1128 + 63 * k), line, ha='left', va='center', fontsize=33,
             family='DejaVu Sans', color='black', zorder=11)
for yy in (1295, 1298.5, 1302, 1305.5):
    fig.add_artist(Line2D([fx(1124), fx(1513)], [fy(yy), fy(yy)], color='#8a8a8a', lw=1.2, zorder=9))

fig.savefig('out.png', dpi=100)
